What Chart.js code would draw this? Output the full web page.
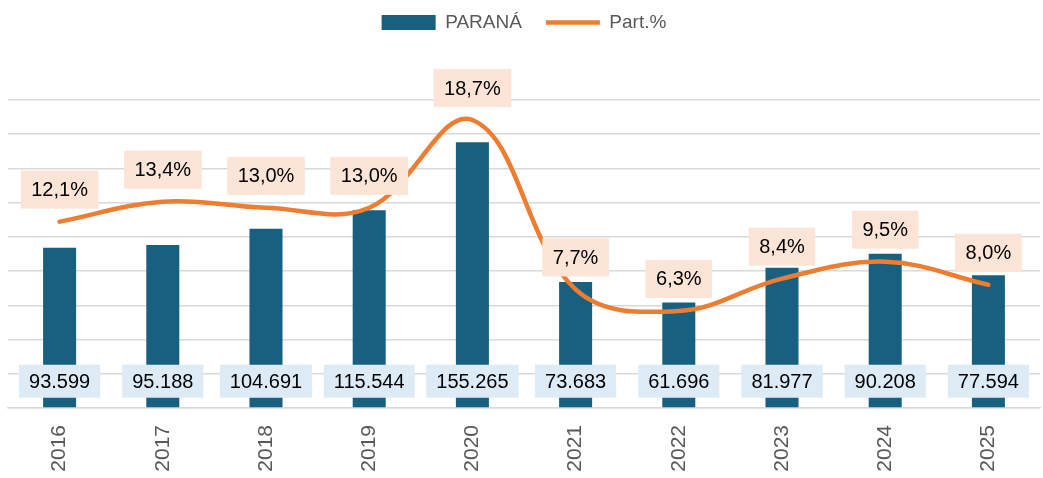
<!DOCTYPE html>
<html lang="pt-BR">
<head>
  <meta charset="UTF-8">
  <title>Paraná</title>
  <script src="https://cdn.jsdelivr.net/npm/chart.js"></script>
  <style>
    html, body { margin: 0; padding: 0; background: #fff; }
    .chart-container { width: 1043px; height: 478px; }
  </style>
</head>
<body>
  <div class="chart-container">
    <canvas id="chart"></canvas>
  </div>
  <script>
    const anos = ['2016', '2017', '2018', '2019', '2020', '2021', '2022', '2023', '2024', '2025'];
    const parana = [93599, 95188, 104691, 115544, 155265, 73683, 61696, 81977, 90208, 77594];
    const participacao = [12.1, 13.4, 13.0, 13.0, 18.7, 7.7, 6.3, 8.4, 9.5, 8.0];

    const fonte = "'Liberation Sans', Arial, sans-serif";
    const labelFont = "20px " + fonte;

    function fmtMil(v) {
      return String(v).replace(/\B(?=(\d{3})+(?!\d))/g, '.');
    }
    function fmtPct(v) {
      return v.toFixed(1).replace('.', ',') + '%';
    }

    function drawBox(ctx, text, x, y, h, pad, bg) {
      const w = ctx.measureText(text).width + pad * 2;
      ctx.fillStyle = bg;
      ctx.fillRect(x - w / 2, y - h / 2, w, h);
      ctx.fillStyle = '#000';
      ctx.fillText(text, x, y + 1);
    }

    // rótulos de dados com fundo
    const rotulos = {
      id: 'rotulos',
      afterDatasetsDraw(chart) {
        const ctx = chart.ctx;
        ctx.save();
        ctx.font = labelFont;
        ctx.textAlign = 'center';
        ctx.textBaseline = 'middle';
        chart.getDatasetMeta(0).data.forEach((el, i) => {
          drawBox(ctx, fmtMil(parana[i]), el.x, el.base - 26, 33, 10, '#ddebf7');
        });
        chart.getDatasetMeta(1).data.forEach((el, i) => {
          drawBox(ctx, fmtPct(participacao[i]), el.x, el.y - 32, 38, 10.5, '#fce4d6');
        });
        ctx.restore();
      }
    };

    // espaço entre a legenda e a área do gráfico
    const espacoLegenda = {
      id: 'espacoLegenda',
      beforeLayout(chart) {
        const legend = chart.legend;
        if (!legend || legend._espaco) return;
        const fit = legend.fit;
        legend.fit = function () {
          fit.call(this);
          this.height += 58;
        };
        legend._espaco = true;
      }
    };

    new Chart(document.getElementById('chart'), {
      data: {
        labels: anos,
        datasets: [
          {
            type: 'bar',
            label: 'PARANÁ',
            data: parana,
            backgroundColor: '#17607f',
            borderWidth: 0,
            barPercentage: 0.32,
            categoryPercentage: 1,
            pointStyle: 'rect',
            yAxisID: 'y',
            order: 2
          },
          {
            type: 'line',
            label: 'Part.%',
            data: participacao,
            borderColor: '#ed7d31',
            backgroundColor: '#ed7d31',
            borderWidth: 4.5,
            borderCapStyle: 'round',
            tension: 0.38,
            pointRadius: 0,
            pointStyle: 'line',
            yAxisID: 'y1',
            order: 1
          }
        ]
      },
      options: {
        responsive: true,
        maintainAspectRatio: false,
        animation: false,
        layout: { padding: { left: 8, right: 3, top: -11, bottom: 0 } },
        plugins: {
          tooltip: { enabled: false },
          legend: {
            position: 'top',
            labels: {
              usePointStyle: true,
              pointStyleWidth: 54,
              boxWidth: 54,
              boxHeight: 15,
              color: '#595959',
              font: { family: fonte, size: 19 },
              padding: 24,
              sort: (a, b) => a.datasetIndex - b.datasetIndex
            }
          }
        },
        scales: {
          x: {
            grid: { display: false },
            border: { color: '#d9d9d9', width: 1.5 },
            ticks: {
              color: '#595959',
              minRotation: 90,
              maxRotation: 90,
              padding: 9,
              font: { family: fonte, size: 21 }
            },
            afterFit: (s) => { s.height = 70; }
          },
          y: {
            min: 0,
            max: 180000,
            ticks: { display: false, stepSize: 20000 },
            grid: { color: '#d9d9d9', lineWidth: 1.5, drawTicks: false },
            border: { display: false }
          },
          y1: {
            display: false,
            min: 0,
            max: 20
          }
        }
      },
      plugins: [espacoLegenda, rotulos]
    });
  </script>
</body>
</html>
